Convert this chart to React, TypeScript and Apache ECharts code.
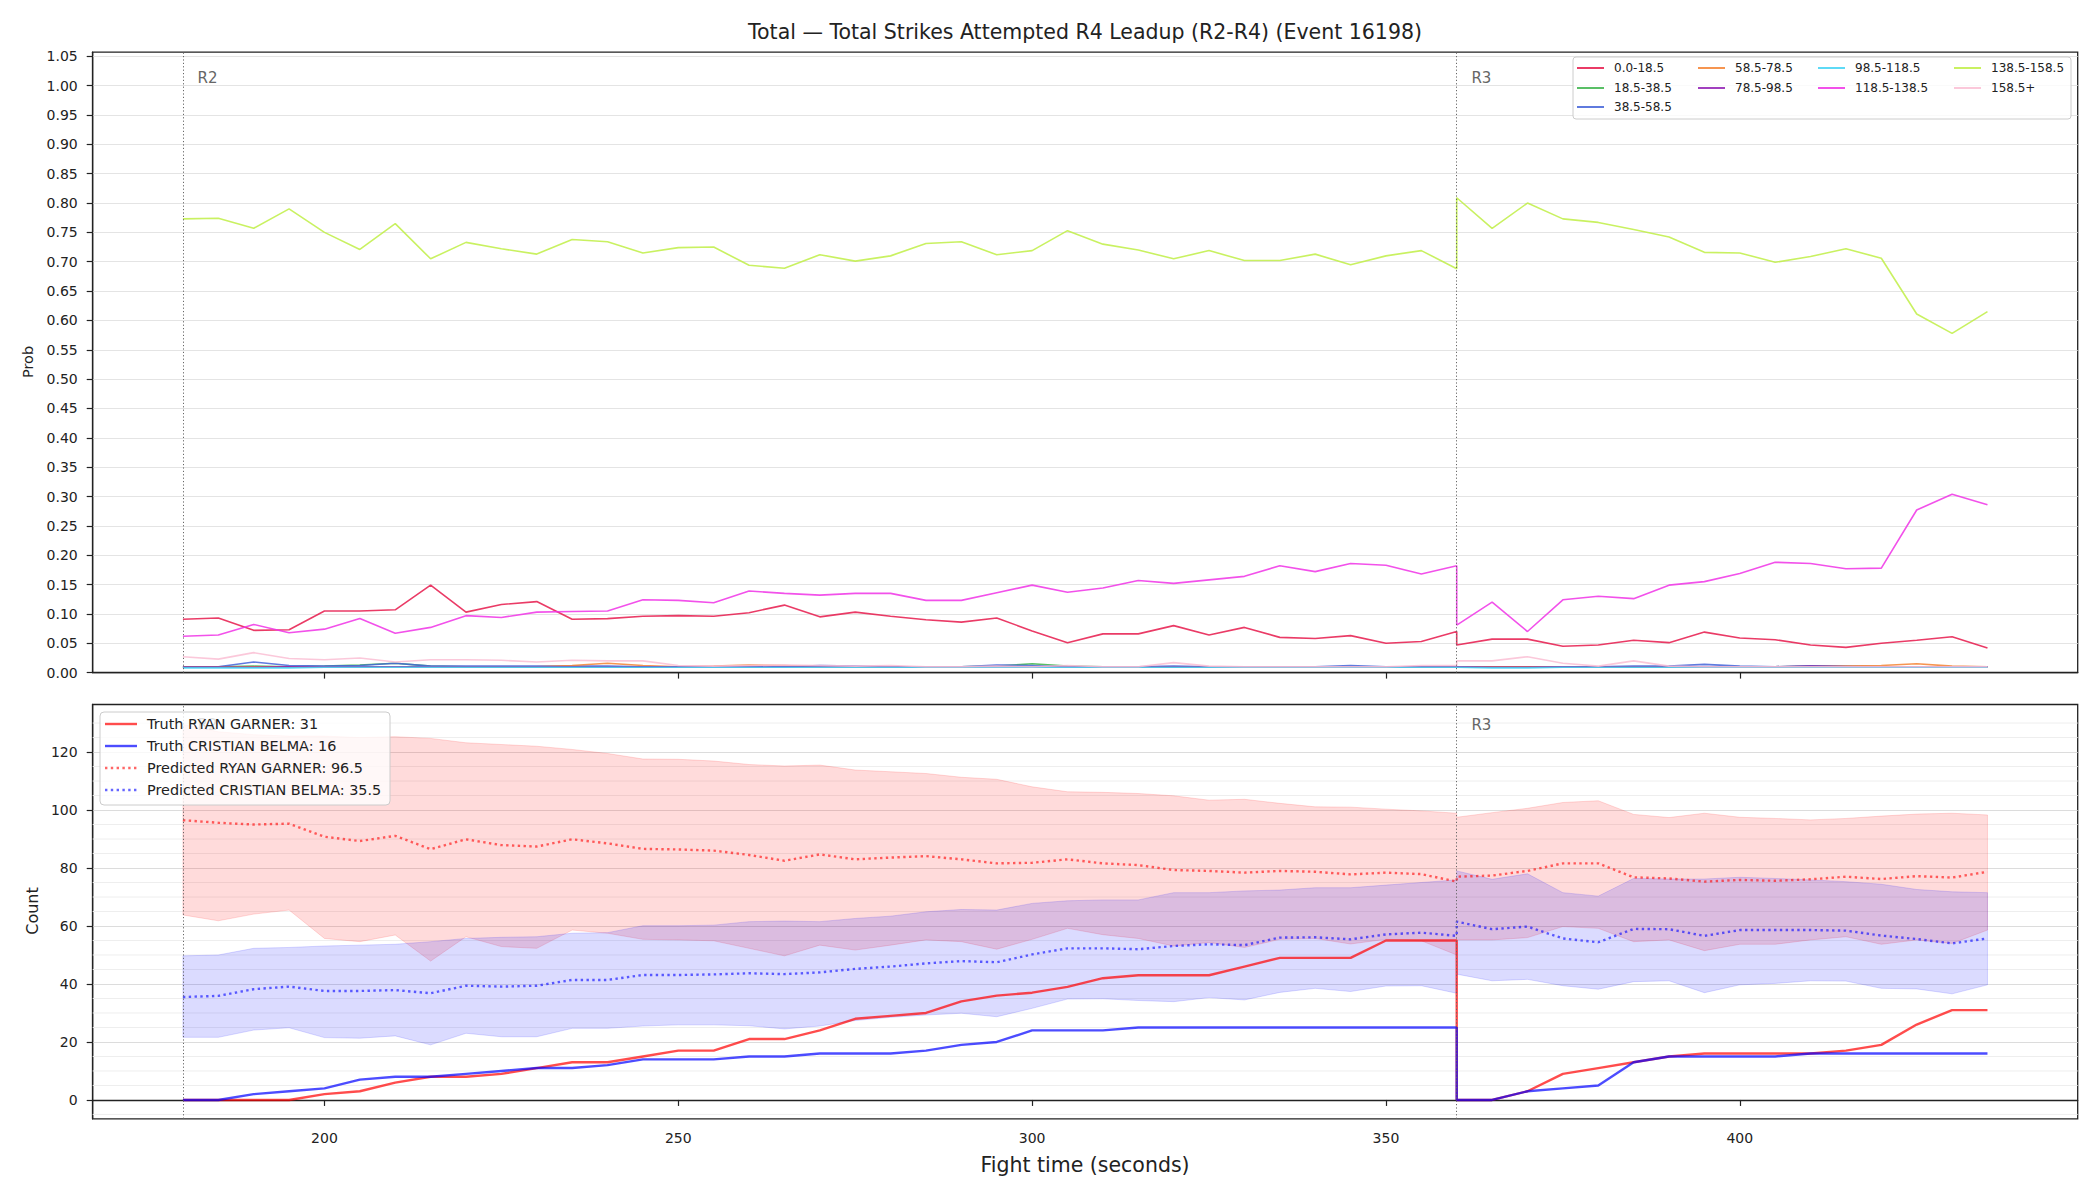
import React, { useEffect, useRef } from 'react';
import * as echarts from 'echarts';

// Fight time (seconds): round 2 samples, then round 3 samples (360 appears twice: end of R2, start of R3)
const TIME = [
  180, 185, 190, 195, 200, 205, 210, 215, 220, 225, 230, 235, 240, 245, 250, 255, 260, 265, 270,
  275, 280, 285, 290, 295, 300, 305, 310, 315, 320, 325, 330, 335, 340, 345, 350, 355, 360,
  360, 365, 370, 375, 380, 385, 390, 395, 400, 405, 410, 415, 420, 425, 430, 435,
];

const TIME_TICKS = [200, 250, 300, 350, 400];
const PROB_TICKS = [0, 0.05, 0.1, 0.15, 0.2, 0.25, 0.3, 0.35, 0.4, 0.45, 0.5, 0.55, 0.6, 0.65, 0.7, 0.75, 0.8, 0.85, 0.9, 0.95, 1.0, 1.05];
const COUNT_TICKS = [0, 20, 40, 60, 80, 100, 120];
const COUNT_MINOR = [-5, 5, 10, 15, 25, 30, 35, 45, 50, 55, 65, 70, 75, 85, 90, 95, 105, 110, 115, 125, 130];

const ROUND_STARTS = [180, 360];
const ROUND_LABELS = ['R2', 'R3'];

// Probability of each strike-count bin
const BIN_NAMES = ['0.0-18.5', '18.5-38.5', '38.5-58.5', '58.5-78.5', '78.5-98.5', '98.5-118.5', '118.5-138.5', '138.5-158.5', '158.5+'];
const BIN_COLORS = ['#e6194b', '#3cb44b', '#4363d8', '#f58231', '#911eb4', '#42d4f4', '#f032e6', '#bfef45', '#fabed4'];

const PROB_0_18 = [
  0.091, 0.093, 0.072, 0.073, 0.105, 0.105, 0.107, 0.149, 0.103, 0.116, 0.121, 0.091, 0.092, 0.096, 0.097, 0.096, 0.102, 0.115, 0.095,
  0.103, 0.096, 0.090, 0.086, 0.093, 0.071, 0.051, 0.066, 0.066, 0.080, 0.064, 0.077, 0.060, 0.058, 0.063, 0.050, 0.053, 0.070,
  0.047, 0.057, 0.057, 0.045, 0.047, 0.055, 0.051, 0.069, 0.059, 0.056, 0.047, 0.043, 0.050, 0.055, 0.061, 0.042,
];
const PROB_18_38 = [
  0.010, 0.010, 0.011, 0.010, 0.011, 0.013, 0.016, 0.011, 0.010, 0.010, 0.010, 0.010, 0.010, 0.010, 0.010, 0.010, 0.010, 0.010, 0.010,
  0.010, 0.010, 0.010, 0.010, 0.011, 0.015, 0.011, 0.010, 0.010, 0.010, 0.010, 0.010, 0.010, 0.010, 0.010, 0.010, 0.010, 0.010,
  0.010, 0.010, 0.010, 0.010, 0.010, 0.010, 0.010, 0.010, 0.010, 0.010, 0.011, 0.010, 0.010, 0.010, 0.010, 0.010,
];
const PROB_38_58 = [
  0.010, 0.010, 0.018, 0.012, 0.011, 0.012, 0.016, 0.011, 0.011, 0.011, 0.011, 0.011, 0.011, 0.010, 0.010, 0.010, 0.010, 0.010, 0.012,
  0.011, 0.010, 0.010, 0.010, 0.013, 0.012, 0.010, 0.010, 0.010, 0.011, 0.010, 0.010, 0.010, 0.010, 0.012, 0.010, 0.010, 0.010,
  0.010, 0.010, 0.010, 0.010, 0.010, 0.011, 0.011, 0.014, 0.011, 0.010, 0.011, 0.011, 0.010, 0.010, 0.010, 0.010,
];
const PROB_58_78 = [
  0.009, 0.009, 0.010, 0.010, 0.010, 0.010, 0.010, 0.010, 0.010, 0.010, 0.010, 0.012, 0.016, 0.012, 0.010, 0.011, 0.013, 0.012, 0.010,
  0.010, 0.010, 0.010, 0.010, 0.010, 0.010, 0.010, 0.010, 0.010, 0.010, 0.010, 0.010, 0.010, 0.010, 0.010, 0.010, 0.010, 0.010,
  0.010, 0.010, 0.010, 0.010, 0.010, 0.010, 0.010, 0.010, 0.010, 0.010, 0.010, 0.011, 0.012, 0.015, 0.011, 0.010,
];
const PROB_78_98 = [
  0.009, 0.009, 0.009, 0.010, 0.010, 0.010, 0.010, 0.010, 0.010, 0.010, 0.010, 0.010, 0.010, 0.010, 0.010, 0.010, 0.010, 0.010, 0.010,
  0.010, 0.010, 0.010, 0.010, 0.010, 0.010, 0.010, 0.010, 0.010, 0.010, 0.010, 0.010, 0.010, 0.010, 0.010, 0.010, 0.010, 0.010,
  0.009, 0.009, 0.009, 0.010, 0.010, 0.010, 0.010, 0.010, 0.010, 0.010, 0.011, 0.010, 0.010, 0.010, 0.010, 0.010,
];
const PROB_98_118 = [
  0.008, 0.008, 0.008, 0.008, 0.009, 0.009, 0.009, 0.009, 0.009, 0.009, 0.009, 0.009, 0.009, 0.009, 0.009, 0.009, 0.009, 0.009, 0.009,
  0.009, 0.009, 0.009, 0.009, 0.009, 0.009, 0.009, 0.009, 0.009, 0.009, 0.009, 0.009, 0.009, 0.009, 0.009, 0.009, 0.009, 0.009,
  0.008, 0.008, 0.008, 0.009, 0.009, 0.009, 0.009, 0.009, 0.009, 0.009, 0.009, 0.009, 0.009, 0.009, 0.009, 0.009,
];
const PROB_118_138 = [
  0.062, 0.064, 0.082, 0.068, 0.074, 0.092, 0.067, 0.077, 0.097, 0.094, 0.103, 0.104, 0.105, 0.124, 0.123, 0.119, 0.139, 0.135, 0.132,
  0.135, 0.135, 0.123, 0.123, 0.136, 0.149, 0.137, 0.144, 0.157, 0.152, 0.158, 0.164, 0.182, 0.172, 0.186, 0.183, 0.168, 0.182,
  0.081, 0.120, 0.070, 0.124, 0.130, 0.126, 0.149, 0.155, 0.169, 0.188, 0.186, 0.177, 0.178, 0.277, 0.304, 0.286,
];
const PROB_138_158 = [
  0.773, 0.774, 0.757, 0.790, 0.750, 0.721, 0.765, 0.705, 0.733, 0.722, 0.713, 0.738, 0.734, 0.715, 0.724, 0.725, 0.694, 0.689, 0.712,
  0.701, 0.710, 0.731, 0.734, 0.712, 0.719, 0.753, 0.730, 0.720, 0.705, 0.719, 0.702, 0.702, 0.713, 0.695, 0.710, 0.719, 0.688,
  0.809, 0.757, 0.800, 0.773, 0.767, 0.755, 0.742, 0.716, 0.715, 0.699, 0.709, 0.722, 0.706, 0.611, 0.578, 0.615,
];
const PROB_158_UP = [
  0.027, 0.023, 0.034, 0.024, 0.022, 0.025, 0.018, 0.022, 0.022, 0.021, 0.018, 0.021, 0.020, 0.020, 0.012, 0.011, 0.012, 0.013, 0.012,
  0.011, 0.012, 0.010, 0.010, 0.011, 0.010, 0.012, 0.010, 0.010, 0.017, 0.011, 0.010, 0.010, 0.010, 0.010, 0.010, 0.012, 0.012,
  0.020, 0.020, 0.027, 0.016, 0.011, 0.020, 0.011, 0.010, 0.010, 0.010, 0.010, 0.010, 0.010, 0.010, 0.010, 0.010,
];

const PROB_SERIES = [PROB_0_18, PROB_18_38, PROB_38_58, PROB_58_78, PROB_78_98, PROB_98_118, PROB_118_138, PROB_138_158, PROB_158_UP];

// Cumulative strikes attempted: observed counts and predicted totals with their bands
const FIGHTER_A = 'RYAN GARNER';
const FIGHTER_B = 'CRISTIAN BELMA';

const TRUTH_A = [
  0, 0, 0, 0, 2, 3, 6, 8, 8, 9, 11, 13, 13, 15, 17, 17, 21, 21, 24,
  28, 29, 30, 34, 36, 37, 39, 42, 43, 43, 43, 46, 49, 49, 49, 55, 55, 55,
  0, 0, 3, 9, 11, 13, 15, 16, 16, 16, 16, 17, 19, 26, 31, 31,
];
const TRUTH_B = [
  0, 0, 2, 3, 4, 7, 8, 8, 9, 10, 11, 11, 12, 14, 14, 14, 15, 15, 16,
  16, 16, 17, 19, 20, 24, 24, 24, 25, 25, 25, 25, 25, 25, 25, 25, 25, 25,
  0, 0, 3, 4, 5, 13, 15, 15, 15, 15, 16, 16, 16, 16, 16, 16,
];
const PRED_A = [
  96.5, 95.6, 95.0, 95.3, 90.8, 89.3, 91.1, 86.5, 89.9, 87.9, 87.4, 89.9, 88.5, 86.6, 86.4, 86.0, 84.5, 82.5, 84.7,
  83.0, 83.6, 84.1, 83.0, 81.6, 81.8, 83.0, 81.6, 81.0, 79.3, 79.0, 78.4, 79.0, 78.7, 77.8, 78.4, 77.9, 75.3,
  77.0, 77.4, 79.0, 81.6, 81.6, 76.8, 76.4, 75.3, 75.9, 75.6, 76.1, 77.0, 76.2, 77.2, 76.7, 78.7,
];
const PRED_B = [
  35.5, 35.9, 38.2, 39.1, 37.6, 37.6, 37.9, 36.8, 39.4, 39.1, 39.4, 41.4, 41.4, 43.1, 43.1, 43.3, 43.7, 43.4, 44.0,
  45.2, 46.0, 47.1, 47.9, 47.5, 50.2, 52.3, 52.3, 52.0, 53.1, 53.7, 53.4, 56.0, 56.1, 55.4, 57.1, 57.7, 56.6,
  61.5, 58.9, 59.8, 55.7, 54.4, 59.0, 58.9, 56.6, 58.6, 58.6, 58.6, 58.4, 56.7, 55.5, 54.0, 55.7,
];
const BAND_A_HIGH = [
  129.5, 127.0, 126.0, 125.5, 125.5, 125.0, 125.3, 124.7, 123.2, 122.6, 122.0, 120.9, 119.5, 117.6, 117.5, 116.9, 115.7, 115.2, 115.5,
  113.8, 113.2, 112.6, 111.3, 110.6, 108.0, 106.3, 106.1, 105.7, 104.9, 103.4, 103.7, 102.3, 101.1, 101.0, 100.3, 99.7, 98.9,
  97.5, 99.1, 100.6, 102.6, 103.2, 98.5, 97.4, 98.9, 97.5, 97.1, 96.6, 97.1, 97.9, 98.6, 98.9, 98.3,
];
const BAND_A_LOW = [
  63.8, 61.8, 64.1, 65.5, 55.7, 54.6, 56.9, 47.9, 56.3, 52.9, 52.3, 58.6, 57.5, 55.4, 55.2, 54.9, 52.3, 49.7, 53.4,
  51.7, 53.4, 55.2, 54.6, 52.0, 55.4, 59.2, 57.0, 55.7, 53.1, 54.3, 52.6, 55.4, 55.7, 53.8, 55.4, 54.9, 50.0,
  55.2, 55.2, 56.0, 59.8, 59.2, 54.6, 55.2, 51.5, 53.7, 53.7, 55.2, 56.3, 53.7, 55.2, 54.0, 58.6,
];
const BAND_B_HIGH = [
  49.7, 50.0, 52.3, 52.6, 53.1, 53.4, 53.7, 54.6, 55.7, 56.1, 56.3, 57.5, 57.7, 60.1, 60.1, 60.3, 61.5, 61.7, 61.5,
  62.6, 63.4, 64.9, 65.7, 65.5, 67.8, 68.7, 69.0, 69.0, 71.5, 71.5, 72.1, 72.4, 73.2, 73.2, 74.1, 75.0, 75.9,
  79.0, 76.1, 78.0, 71.5, 70.3, 76.4, 76.2, 76.2, 76.8, 76.4, 75.9, 75.3, 74.4, 72.6, 71.8, 71.5,
];
const BAND_B_LOW = [
  21.6, 21.6, 24.1, 24.9, 21.5, 21.3, 22.1, 19.0, 23.0, 21.8, 21.8, 24.7, 24.7, 25.5, 25.9, 25.9, 25.6, 24.5, 25.5,
  27.4, 28.5, 29.3, 29.9, 28.7, 31.6, 34.8, 34.9, 34.3, 33.9, 35.3, 34.5, 37.1, 38.5, 37.4, 39.3, 39.4, 36.8,
  43.4, 41.1, 41.6, 39.4, 38.2, 40.8, 41.1, 37.0, 39.7, 40.2, 41.1, 41.0, 38.5, 38.3, 36.6, 39.7,
];

const FONT = 'DejaVu Sans';
const INK = '#222222';
const RED = 'rgba(255,0,0,0.7)';
const BLUE = 'rgba(0,0,255,0.7)';
const RED_DOT = 'rgba(255,0,0,0.6)';
const BLUE_DOT = 'rgba(0,0,255,0.6)';
const RED_FILL = 'rgba(255,0,0,0.14)';
const BLUE_FILL = 'rgba(0,0,255,0.14)';

const X_MIN = 167.25;
const X_MAX = 447.75;

function pairs(values: number[]) {
  return TIME.map((t, i) => [t, values[i]]);
}

function withAlpha(hex: string, a: number) {
  const n = parseInt(hex.slice(1), 16);
  return `rgba(${(n >> 16) & 255},${(n >> 8) & 255},${n & 255},${a})`;
}

function bandSeries(low: number[], high: number[], fill: string) {
  return {
    type: 'custom',
    xAxisIndex: 1,
    yAxisIndex: 1,
    z: 2,
    silent: true,
    clip: true,
    data: TIME.map((t, i) => [t, low[i], high[i]]),
    encode: { x: 0, y: [1, 2] },
    renderItem: (params: any, api: any) => {
      if (params.dataIndex !== 0) return { type: 'group', children: [] };
      const upper = TIME.map((t, i) => api.coord([t, high[i]]));
      const lower = TIME.map((t, i) => api.coord([t, low[i]])).reverse();
      return {
        type: 'polygon',
        shape: { points: upper.concat(lower) },
        style: { fill, stroke: fill, lineWidth: 1 },
      };
    },
  };
}

// light horizontal lines at the minor count ticks, kept beneath every mark
function minorGridSeries() {
  return {
    type: 'custom',
    xAxisIndex: 1,
    yAxisIndex: 1,
    z: 1,
    silent: true,
    clip: true,
    data: COUNT_MINOR.map((v) => [X_MIN, v]),
    encode: { x: 0, y: 1 },
    renderItem: (params: any, api: any) => {
      const v = api.value(1);
      const a = api.coord([X_MIN, v]);
      const b = api.coord([X_MAX, v]);
      return {
        type: 'line',
        shape: { x1: a[0], y1: a[1], x2: b[0], y2: b[1] },
        style: { stroke: '#eeeeee', lineWidth: 1 },
      };
    },
  };
}

function roundMarks() {
  return {
    silent: true,
    symbol: ['none', 'none'],
    label: { show: false },
    lineStyle: { color: '#666', type: [1.2, 2.2], width: 1 },
    data: ROUND_STARTS.map((x) => ({ xAxis: x })),
  };
}

function roundLabels(axisIndex: number, y: number) {
  return {
    type: 'scatter',
    xAxisIndex: axisIndex,
    yAxisIndex: axisIndex,
    silent: true,
    symbolSize: 1,
    itemStyle: { color: 'rgba(0,0,0,0)' },
    z: 1,
    data: ROUND_STARTS.map((x, i) => ({ value: [x + 2.0, y], name: ROUND_LABELS[i] })),
    label: {
      show: true,
      position: 'right',
      distance: 0,
      formatter: (p: any) => p.name,
      color: '#666666',
      opacity: 1,
      fontSize: 15,
      fontFamily: FONT,
    },
  };
}

function xAxis(gridIndex: number, showLabels: boolean) {
  return {
    type: 'value',
    gridIndex,
    min: X_MIN,
    max: X_MAX,
    splitNumber: 5,
    axisLine: { show: true, lineStyle: { color: INK, width: 1.3 } },
    axisTick: { show: true, length: 6, lineStyle: { color: INK, width: 1.2 }, customValues: TIME_TICKS },
    axisLabel: {
      show: showLabels,
      customValues: TIME_TICKS,
      margin: 12,
      fontSize: 14,
      color: INK,
      fontFamily: FONT,
      formatter: (v: number) => (TIME_TICKS.includes(Math.round(v)) && Math.abs(v - Math.round(v)) < 1e-6 ? String(Math.round(v)) : ''),
    },
    splitLine: { show: false },
  };
}

function legendGraphics() {
  const els: any[] = [];
  // probability legend: 4 columns, filled column by column
  els.push({
    type: 'rect', z: 100, shape: { x: 1573, y: 57, width: 498, height: 62, r: 3 },
    style: { fill: 'rgba(255,255,255,0.8)', stroke: '#cccccc', lineWidth: 1 },
  });
  const colX = [1577, 1698, 1818, 1954];
  const rowY = [68, 88, 107];
  const colOf = [0, 0, 0, 1, 1, 2, 2, 3, 3];
  const rowOf = [0, 1, 2, 0, 1, 0, 1, 0, 1];
  BIN_NAMES.forEach((name, i) => {
    const x = colX[colOf[i]];
    const y = rowY[rowOf[i]];
    els.push({
      type: 'line', z: 101, shape: { x1: x, y1: y, x2: x + 27, y2: y },
      style: { stroke: withAlpha(BIN_COLORS[i], 0.85), lineWidth: 2 },
    });
    els.push({
      type: 'text', z: 101, x: x + 37, y,
      style: { text: name, fill: INK, font: `12px "${FONT}"`, textVerticalAlign: 'middle' },
    });
  });

  // counts legend
  els.push({
    type: 'rect', z: 100, shape: { x: 100, y: 712, width: 290, height: 93, r: 4 },
    style: { fill: 'rgba(255,255,255,0.8)', stroke: '#cccccc', lineWidth: 1 },
  });
  const entries = [
    { text: `Truth ${FIGHTER_A}: ${TRUTH_A[TRUTH_A.length - 1]}`, color: RED, dash: null },
    { text: `Truth ${FIGHTER_B}: ${TRUTH_B[TRUTH_B.length - 1]}`, color: BLUE, dash: null },
    { text: `Predicted ${FIGHTER_A}: ${PRED_A[0]}`, color: RED_DOT, dash: [2.4, 3.4] },
    { text: `Predicted ${FIGHTER_B}: ${PRED_B[0]}`, color: BLUE_DOT, dash: [2.4, 3.4] },
  ];
  const ly = [724, 746, 768, 790];
  entries.forEach((e, i) => {
    els.push({
      type: 'line', z: 101, shape: { x1: 105, y1: ly[i], x2: 137, y2: ly[i] },
      style: { stroke: e.color, lineWidth: 2.4, lineDash: e.dash || undefined },
    });
    els.push({
      type: 'text', z: 101, x: 147, y: ly[i],
      style: { text: e.text, fill: INK, font: `14.4px "${FONT}"`, textVerticalAlign: 'middle' },
    });
  });

  // title and axis names
  els.push({
    type: 'text', z: 100, x: 1085, y: 32,
    style: { text: 'Total — Total Strikes Attempted R4 Leadup (R2-R4) (Event 16198)', fill: INK, font: `20.5px "${FONT}"`, textAlign: 'center', textVerticalAlign: 'middle' },
  });
  els.push({
    type: 'text', z: 100, x: 1085, y: 1165,
    style: { text: 'Fight time (seconds)', fill: INK, font: `20.5px "${FONT}"`, textAlign: 'center', textVerticalAlign: 'middle' },
  });
  els.push({
    type: 'text', z: 100, x: 28, y: 362, rotation: Math.PI / 2,
    style: { text: 'Prob', fill: INK, font: `14.5px "${FONT}"`, textAlign: 'center', textVerticalAlign: 'middle' },
  });
  els.push({
    type: 'text', z: 100, x: 32, y: 911, rotation: Math.PI / 2,
    style: { text: 'Count', fill: INK, font: `16px "${FONT}"`, textAlign: 'center', textVerticalAlign: 'middle' },
  });
  return els;
}

function buildOption() {
  const probLines = BIN_NAMES.map((name, i) => ({
    type: 'line',
    name,
    xAxisIndex: 0,
    yAxisIndex: 0,
    data: pairs(PROB_SERIES[i]),
    symbol: 'none',
    showSymbol: false,
    z: 3,
    lineStyle: { color: withAlpha(BIN_COLORS[i], 0.85), width: 1.6 },
    itemStyle: { color: withAlpha(BIN_COLORS[i], 0.85) },
    ...(i === 0 ? { markLine: roundMarks() } : {}),
  }));

  const countLines = [
    { name: `Truth ${FIGHTER_A}`, data: TRUTH_A, color: RED, dash: 'solid' as any },
    { name: `Truth ${FIGHTER_B}`, data: TRUTH_B, color: BLUE, dash: 'solid' as any },
    { name: `Predicted ${FIGHTER_A}`, data: PRED_A, color: RED_DOT, dash: [2.4, 3.4] },
    { name: `Predicted ${FIGHTER_B}`, data: PRED_B, color: BLUE_DOT, dash: [2.4, 3.4] },
  ].map((s) => ({
    type: 'line',
    name: s.name,
    xAxisIndex: 1,
    yAxisIndex: 1,
    data: pairs(s.data),
    symbol: 'none',
    showSymbol: false,
    z: 3,
    lineStyle: { color: s.color, width: 2.4, type: s.dash, cap: 'butt' },
    itemStyle: { color: s.color },
  }));

  return {
    animation: false,
    backgroundColor: '#ffffff',
    textStyle: { fontFamily: FONT },
    grid: [
      { left: 92.7, top: 52.2, width: 1985, height: 620.4, show: true, borderColor: INK, borderWidth: 1.3, containLabel: false },
      { left: 92.7, top: 704.5, width: 1985, height: 414.3, show: true, borderColor: INK, borderWidth: 1.3, containLabel: false },
    ],
    xAxis: [xAxis(0, false), xAxis(1, true)],
    yAxis: [
      {
        type: 'value',
        gridIndex: 0,
        min: 0,
        max: 1.057,
        interval: 0.05,
        axisLine: { show: true, lineStyle: { color: INK, width: 1.3 } },
        axisTick: { show: true, length: 6, lineStyle: { color: INK, width: 1.2 }, customValues: PROB_TICKS },
        axisLabel: {
          customValues: PROB_TICKS,
          margin: 15,
          fontSize: 14,
          color: INK,
          fontFamily: FONT,
          formatter: (v: number) => {
            const k = Math.round(v / 0.05);
            return Math.abs(v - k * 0.05) < 1e-6 ? (k * 0.05).toFixed(2) : '';
          },
        },
        splitLine: { show: true, lineStyle: { color: '#e4e4e4', width: 1 } },
      },
      {
        type: 'value',
        gridIndex: 1,
        min: -6.5,
        max: 136.4,
        splitNumber: 7,
        axisLine: { show: true, lineStyle: { color: INK, width: 1.3 } },
        axisTick: { show: true, length: 6, lineStyle: { color: INK, width: 1.2 }, customValues: COUNT_TICKS },
        axisLabel: {
          customValues: COUNT_TICKS,
          margin: 15,
          fontSize: 14,
          color: INK,
          fontFamily: FONT,
          formatter: (v: number) => (COUNT_TICKS.includes(Math.round(v)) && Math.abs(v - Math.round(v)) < 1e-6 ? String(Math.round(v)) : ''),
        },
        splitLine: { show: true, lineStyle: { color: '#dcdcdc', width: 1 } },
      },
    ],
    series: [
      ...probLines,
      roundLabels(0, 1.0135),
      minorGridSeries(),
      bandSeries(BAND_A_LOW, BAND_A_HIGH, RED_FILL),
      bandSeries(BAND_B_LOW, BAND_B_HIGH, BLUE_FILL),
      ...countLines.map((s, i) => (i === 0 ? { ...s, markLine: roundMarks() } : s)),
      roundLabels(1, 129.3),
    ],
    graphic: legendGraphics(),
  };
}

export default function App() {
  const ref = useRef<HTMLDivElement>(null);
  useEffect(() => {
    if (!ref.current) return;
    const chart = echarts.init(ref.current, undefined, { renderer: 'svg' });
    chart.setOption(buildOption() as any);
    return () => chart.dispose();
  }, []);
  return <div ref={ref} style={{ position: 'fixed', left: 0, top: 0, width: 2100, height: 1200, background: '#fff' }} />;
}
